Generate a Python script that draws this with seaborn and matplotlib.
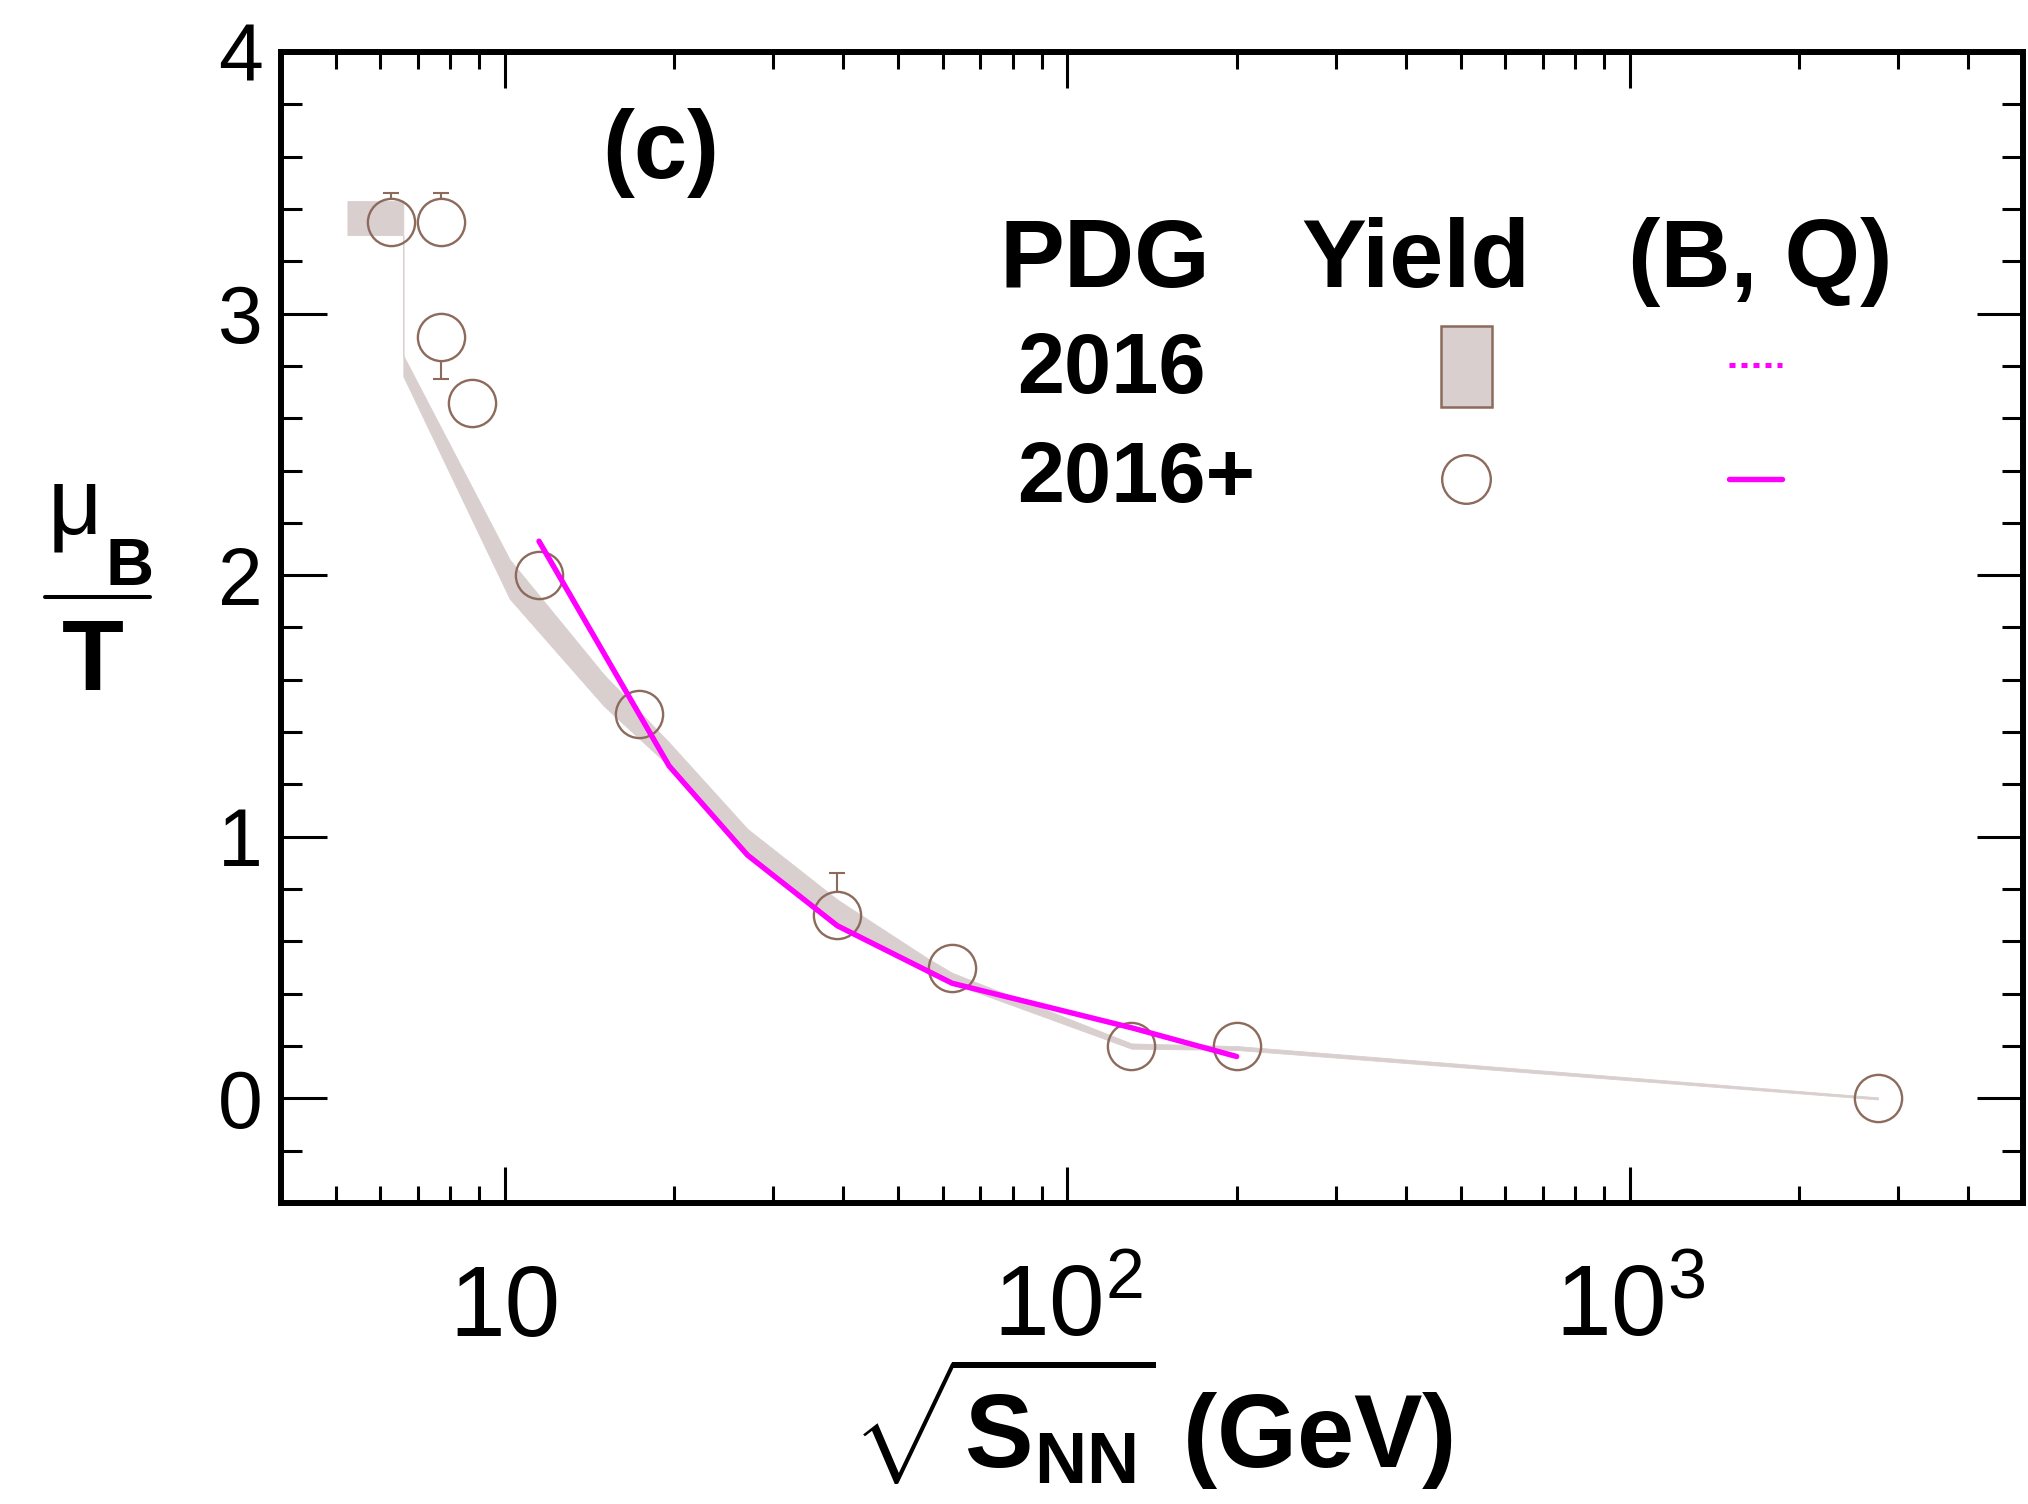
import matplotlib
matplotlib.use('Agg')
import matplotlib.pyplot as plt
import seaborn as sns
import pandas as pd
from matplotlib.lines import Line2D
from matplotlib.patches import Rectangle
from matplotlib.ticker import LogLocator, MultipleLocator, NullFormatter

# data
energy = [6.27, 7.7, 7.7, 8.76, 11.5, 17.3, 39.0, 62.4, 130.0, 200.0, 2760.0]
mu_over_t = [3.35, 3.35, 2.91, 2.66, 2.00, 1.47, 0.70, 0.50, 0.20, 0.20, 0.00]
err_low = [0, 0, 0.16, 0, 0, 0, 0, 0, 0, 0, 0]
err_high = [0.11, 0.11, 0, 0, 0, 0, 0.16, 0, 0, 0, 0]

band_x = [5.25, 6.6, 6.6, 10.2, 15.0, 19.6, 27.0, 39.0, 56.0, 62.4, 130.0, 200.0, 2760.0]
band_low = [3.30, 3.30, 2.76, 1.91, 1.50, 1.27, 0.93, 0.66, 0.49, 0.44, 0.19, 0.185, -0.004]
band_high = [3.43, 3.43, 2.84, 2.06, 1.62, 1.36, 1.03, 0.76, 0.54, 0.48, 0.21, 0.20, 0.004]

bq_x = [11.5, 19.6, 27.0, 39.0, 62.4, 130.0, 200.0]
bq_y = [2.13, 1.27, 0.93, 0.66, 0.44, 0.27, 0.16]

x_ticks = [10, 100, 1000]
x_tick_labels = ['10', '$10^{2}$', '$10^{3}$']
y_ticks = [0, 1, 2, 3, 4]

BROWN = '#8c6a5c'
BAND = '#d9cfcf'
MAGENTA = '#ff00ff'

sns.set_style('ticks')
plt.rcParams['font.family'] = ['Liberation Sans', 'DejaVu Sans']
plt.rcParams['mathtext.fontset'] = 'custom'
plt.rcParams['mathtext.rm'] = 'Liberation Sans'
plt.rcParams['mathtext.bf'] = 'Liberation Sans:bold'
plt.rcParams['mathtext.it'] = 'Liberation Sans:italic'
for key in ['text.color', 'axes.labelcolor', 'xtick.color', 'ytick.color',
            'axes.edgecolor']:
    plt.rcParams[key] = 'black'

W, H = 2028, 1504
fig = plt.figure(figsize=(W / 100, H / 100), dpi=100)
ax = fig.add_axes([281 / W, 1 - 1203 / H, (2023 - 281) / W, (1203 - 52) / H])


def fpos(x, y):
    # pixel position -> figure fraction
    return x / W, 1 - y / H


df_pts = pd.DataFrame({'energy': energy, 'mu_T': mu_over_t})
df_bq = pd.DataFrame({'energy': bq_x, 'mu_T': bq_y})

# error bars, hidden inside the markers by white discs, then the band
ax.errorbar(energy, mu_over_t, yerr=[err_low, err_high], fmt='none',
            ecolor=BROWN, elinewidth=1.5, capsize=6, capthick=1.5, zorder=1)
ax.plot(energy, mu_over_t, 'o', ms=34, mfc='white', mec='none', zorder=1.5)
ax.fill_between(band_x, band_low, band_high, color=BAND, lw=0.6,
                edgecolor=BAND, zorder=2)

# hollow markers
ax.plot(df_pts['energy'], df_pts['mu_T'], 'o', ms=34, mfc='none', mec=BROWN,
        mew=1.7, zorder=3)

# (B, Q) lines
sns.lineplot(data=df_bq, x='energy', y='mu_T', estimator=None, sort=False,
             color=MAGENTA, lw=3.0, ls=(0, (1, 1)), ax=ax, zorder=3.5)
sns.lineplot(data=df_bq, x='energy', y='mu_T', estimator=None, sort=False,
             color=MAGENTA, lw=3.9, ax=ax, zorder=4)

ax.set_xscale('log')
ax.set_xlim(4, 5000)
ax.set_ylim(-0.4, 4)
ax.xaxis.set_minor_locator(LogLocator(base=10, subs=range(2, 10)))
ax.xaxis.set_minor_formatter(NullFormatter())
ax.set_xticks(x_ticks, x_tick_labels)
ax.set_yticks(y_ticks)
ax.yaxis.set_minor_locator(MultipleLocator(0.2))

for sp in ax.spines.values():
    sp.set_linewidth(4.3)
    sp.set_color('black')

ax.tick_params(which='both', direction='in', top=True, right=True,
               width=2.2, color='black', labelcolor='black')
ax.tick_params(axis='y', which='major', length=33, labelsize=58, pad=13)
ax.tick_params(axis='y', which='minor', length=15)
ax.tick_params(axis='x', which='major', length=26, labelsize=72, pad=96)
ax.tick_params(axis='x', which='minor', length=12)
for lab in ax.get_xticklabels():
    lab.set_va('baseline')

ax.set_xlabel(r'$\sqrt{\mathbf{S}_{\mathbf{NN}}}$ (GeV)', fontsize=74,
              fontweight='bold', color='black')
ax.xaxis.set_label_coords(0.5, -0.230)
ax.xaxis.label.set_va('baseline')
ax.set_ylabel('')

# y label drawn as a fraction mu_B / T
fig.text(*fpos(48, 533), 'μ', fontsize=68, ha='left', va='baseline')
fig.text(*fpos(105, 585), 'B', fontsize=48, fontweight='bold', ha='left',
         va='baseline')
fig.add_artist(Line2D([45 / W, 150 / W], [1 - 597 / H] * 2, lw=2.9, color='black'))
fig.text(*fpos(93, 690), 'T', fontsize=73, fontweight='bold', ha='center',
         va='baseline')

# panel label
fig.text(*fpos(661, 178), '(c)', fontsize=69, fontweight='bold', ha='center',
         va='baseline')

# legend table
fig.text(*fpos(1105, 287), 'PDG', fontsize=70, fontweight='bold', ha='center', va='baseline')
fig.text(*fpos(1416, 287), 'Yield', fontsize=70, fontweight='bold', ha='center', va='baseline')
fig.text(*fpos(1760, 287), '(B, Q)', fontsize=70, fontweight='bold', ha='center', va='baseline')
fig.text(*fpos(1017, 393), '2016', fontsize=61, fontweight='bold', ha='left', va='baseline')
fig.text(*fpos(1017, 502), '2016+', fontsize=61, fontweight='bold', ha='left', va='baseline')

x0, y0 = fpos(1441, 407)
fig.add_artist(Rectangle((x0, y0), 51 / W, 81 / H, transform=fig.transFigure,
                         facecolor=BAND, edgecolor=BROWN, lw=1.8))
fig.add_artist(Line2D([1466 / W], [1 - 479 / H], marker='o', ms=35, mfc='none',
                      mec=BROWN, mew=1.7, ls='none'))
fig.add_artist(Line2D([1729 / W, 1782 / W], [1 - 365 / H] * 2, color=MAGENTA,
                      lw=3.6, ls=(0, (1.2, 1.2))))
fig.add_artist(Line2D([1729 / W, 1782 / W], [1 - 479 / H] * 2, color=MAGENTA,
                      lw=3.9))

fig.savefig('out.png', dpi=100)
